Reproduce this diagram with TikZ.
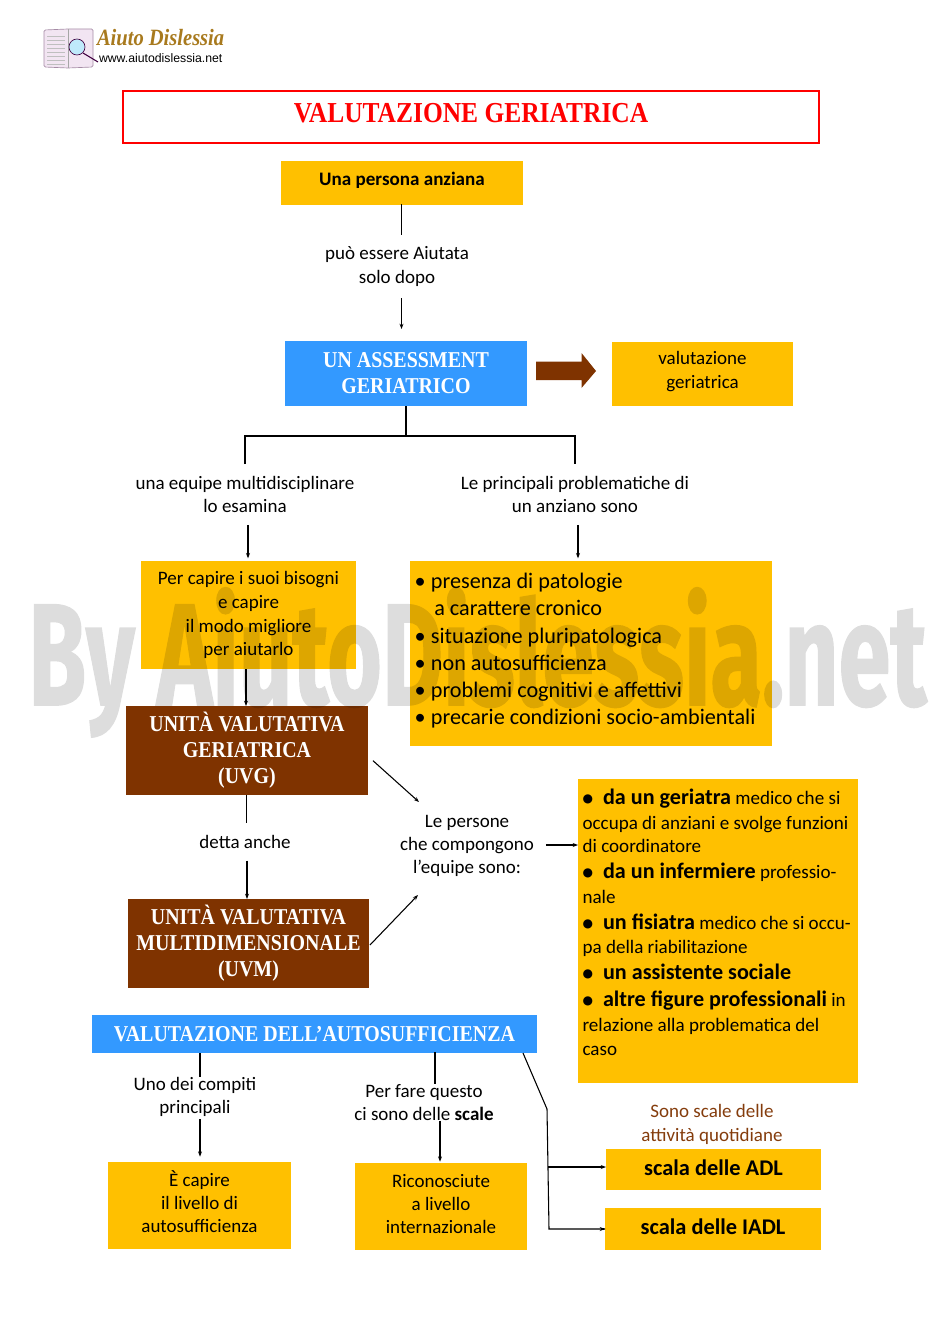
\documentclass[tikz,border=0pt]{standalone}
\usepackage{fontspec}
\usepackage{graphicx}
\setmainfont{Carlito}
\newfontfamily\heading[FakeStretch=0.88]{Liberation Serif}
\newfontfamily\wmfont[FakeBold=1.2]{Fira Sans}
\newfontfamily\logofont{Liberation Sans}
\newfontfamily\bulletfont{DejaVu Sans}
\usetikzlibrary{arrows.meta,calc}
\definecolor{amber}{HTML}{FFC000}
\definecolor{skyb}{HTML}{3399FF}
\definecolor{rust}{HTML}{7F3300}
\definecolor{rusttext}{HTML}{843C0C}
\definecolor{gold}{HTML}{A87A1E}
\tikzset{
 base/.style={inner sep=0pt,outer sep=0pt,font=\fontsize{14.25pt}{17.5pt}\selectfont},
 amberbox/.style={base,fill=amber},
 bluebox/.style={base,fill=skyb,text=white,font=\heading\bfseries\fontsize{17pt}{19.5pt}\selectfont},
 rustbox/.style={base,fill=rust,text=white,font=\heading\bfseries\fontsize{17pt}{19.5pt}\selectfont},
 titlebox/.style={base,draw=red,line width=1.7pt,text=red,font=\heading\bfseries\fontsize{21.7pt}{25pt}\selectfont},
 txt/.style={base,align=center,inner ysep=9pt},
 conn/.style={draw=black,line width=0.8pt},
 arr/.style={conn,-{Stealth[length=4pt,width=3pt]}},
 bigbold/.style={font=\bfseries\fontsize{14.3pt}{17.5pt}\selectfont},
}
\newcommand\ctr[1]{\begin{tabular}{@{}c@{}}#1\end{tabular}}
\newcommand\lft[1]{\begin{tabular}{@{}l@{}}#1\end{tabular}}
\newcommand\bx[8]{%
 \pgfmathsetmacro\bxw{(#5-#3)*0.75}\pgfmathsetmacro\bxh{(#6-#4)*0.75}%
 \node[#1,minimum width=\bxw pt,minimum height=\bxh pt] (#2) at ({(#3+#5)/2},{(#4+#6)/2}) {\raisebox{\dimexpr #7pt-.25em-1.5pt\relax}[0pt][0pt]{#8}};}
\newcommand\blt{\raisebox{1.2pt}{\bulletfont\fontsize{9pt}{9pt}\selectfont ●}\hspace{7.5pt}}
\newcommand\bb[1]{{\fontsize{16.6pt}{18pt}\selectfont\bfseries #1}}
\newcommand\thinblt{\textbullet\hspace{4pt}}
\begin{document}
\begin{tikzpicture}[x=0.75pt,y=-0.75pt]
\useasboundingbox (0,0) rectangle (950,1344);
% logo
\fill[rounded corners=1pt,fill=violet!10,draw=violet!45!black!45,line width=0.5pt] (44,30) -- (68,29) -- (93,29) -- (93,67) -- (68,68) -- (44,67) -- cycle;
\draw[black!35,line width=0.4pt] (68,29) -- (68,68);
\foreach \yy in {36,40,44,48,52,56,60,64}{\draw[black!25,line width=0.4pt] (47,\yy) -- (65,\yy);}
\draw[violet!50!black,line width=0.8pt] (83,53) -- (98,62);
\filldraw[fill=cyan!25,draw=violet!50!black,line width=0.5pt] (77,47) circle (8);
\node[base,anchor=base west,text=gold,font=\heading\bfseries\itshape\fontsize{17.5pt}{18pt}\selectfont] (logoname) at (97,46) {Aiuto Dislessia};
\node[base,anchor=base west,font=\logofont\fontsize{9.2pt}{10pt}\selectfont] (logourl) at (99,63) {www.aiutodislessia.net};
% boxes
\bx{titlebox}{title}{123}{91}{819}{143}{2.5}{\ctr{VALUTAZIONE GERIATRICA}}
\bx{amberbox,bigbold}{persona}{281}{161}{523}{205}{3}{\ctr{Una persona anziana}}
\bx{bluebox}{assess}{285}{341}{527}{406}{0}{\ctr{UN ASSESSMENT\\GERIATRICO}}
\bx{amberbox}{valger}{612}{342}{793}{406}{3}{\ctr{valutazione\\geriatrica}}
\bx{amberbox,font=\fontsize{14.25pt}{17.7pt}\selectfont}{bisogni}{141}{561}{356}{669}{1}{\ctr{Per capire i suoi bisogni\\e capire\\il modo migliore\\per aiutarlo}}
\bx{amberbox,font=\fontsize{16.65pt}{20.4pt}\selectfont}{probl}{410}{561}{772}{746}{3}{\hspace*{-9pt}\lft{\thinblt presenza di patologie\\\phantom{\thinblt}\hspace*{2.5pt}a carattere cronico\\\thinblt situazione pluripatologica\\\thinblt non autosufficienza\\\thinblt problemi cognitivi e affettivi\\\thinblt precarie condizioni socio-ambientali}}
\bx{rustbox}{uvg}{126}{706}{368}{795}{0.2}{\ctr{UNITÀ VALUTATIVA\\GERIATRICA\\(UVG)}}
\bx{rustbox}{uvm}{128}{899}{369}{988}{0.2}{\ctr{UNITÀ VALUTATIVA\\MULTIDIMENSIONALE\\(UVM)}}
\bx{amberbox,font=\fontsize{14.3pt}{18pt}\selectfont}{figure}{578}{779}{858}{1083}{6}{\hspace*{-2pt}\lft{\blt\bb{da un geriatra} medico che si\\[0.75pt]occupa di anziani e svolge funzioni\\[-0.75pt]di coordinatore\\[1.5pt]\blt\bb{da un infermiere} professio-\\[0.75pt]nale\\[1.5pt]\blt\bb{un fisiatra} medico che si occu-\\pa della riabilitazione\\[1.5pt]\blt\bb{un assistente sociale}\\[2.25pt]\blt\bb{altre figure professionali} in\\[0.75pt]relazione alla problematica del\\caso}}
\bx{bluebox}{autosuf}{92}{1015}{537}{1053}{-0.5}{\ctr{VALUTAZIONE DELL’AUTOSUFFICIENZA}}
\bx{amberbox}{ecapire}{108}{1162}{291}{1249}{2}{\ctr{È capire\\il livello di\\autosufficienza}}
\bx{amberbox}{ricon}{355}{1163}{527}{1250}{2}{\ctr{Riconosciute\\a livello\\internazionale}}
\bx{amberbox,font=\bfseries\fontsize{16.8pt}{18pt}\selectfont}{adl}{606}{1149}{821}{1190}{0.5}{\ctr{scala delle ADL}}
\bx{amberbox,font=\bfseries\fontsize{16.8pt}{18pt}\selectfont}{iadl}{605}{1208}{821}{1250}{0.5}{\ctr{scala delle IADL}}
% free labels
\node[txt] (puo) at (397,266.5) {può essere Aiutata\\solo dopo};
\node[txt] (equipe) at (245,494.5) {una equipe multidisciplinare\\lo esamina};
\node[txt] (princ) at (575,494.5) {Le principali problematiche di\\un anziano sono};
\node[txt] (detta) at (245,842) {detta anche};
\node[txt] (lepers) at (467,846) {Le persone\\che compongono\\l’equipe sono:};
\node[txt,inner ysep=0pt] (compiti) at (195,1097) {Uno dei compiti\\principali};
\node[txt,inner ysep=0pt] (perfare) at (424,1102.5) {Per fare questo\\ci sono delle \textbf{scale}};
\node[txt,text=rusttext] (sono) at (712,1124.5) {Sono scale delle\\attività quotidiane};
% connectors
\coordinate (jshoulder) at (406,436);
\coordinate (jbend) at (547,1109);
\coordinate (jadl) at (548,1167);
\coordinate (jiadl) at (549,1229);
\draw[conn] (401.5,204) coordinate (pa) -- (puo.north -| pa);
\draw[arr,shorten >=9pt] (puo.south -| pa) -- (assess.north -| pa);
\draw[conn] (assess.south) -- (jshoulder);
\draw[conn] (equipe.north) |- (jshoulder) -| (princ.north);
\draw[arr,shorten >=2pt] ($(equipe.south)+(3,0)$) -- ($(bisogni.north)+(-0.5,0)$);
\draw[arr,shorten >=2pt] ($(princ.south)+(3,0)$) -- (probl.north -| 578,0);
\draw[arr] (246,669) -- (uvg.north -| 246,0);
\draw[arr,shorten <=3pt] (uvg.east |- 0,758) ++(2,0) -- (419,802);
\draw[arr,shorten <=1pt] (uvm.east |- 0,946) -- (418,895);
\draw[conn] (uvg.south) ++(-0.5,0) -- ($(detta.north)+(1.5,0)$);
\draw[arr] ($(detta.south)+(2,0)$) -- (uvm.north -| 247,0);
\draw[arr,shorten <=9pt] (lepers.east |- 0,845) -- (figure.west |- 0,845);
\draw[conn] (200,1053) -- (compiti.north -| 200,0);
\draw[arr,shorten >=4pt,shorten <=2pt] (compiti.south -| 200,0) -- (ecapire.north -| 200,0);
\draw[conn] (435,1052) -- (perfare.north -| 435,0);
\draw[arr,shorten >=1pt] (perfare.south -| 440,0) -- (ricon.north -| 440,0);
\draw[conn] (523,1053) -- (jbend) -- (jiadl) -- (iadl.west |- jiadl);
\draw[arr] (iadl.west |- jiadl) ++(-1,0) -- (iadl.west |- jiadl);
\draw[arr] (jadl) -- (adl.west |- jadl);
% block arrow
\fill[rust] (536,361.5) -- (581.5,361.5) -- (581.5,353) -- (596,371) -- (581.5,388) -- (581.5,380) -- (536,380) -- cycle;
% watermark
\begin{scope}[transparency group,opacity=0.135]
\node[anchor=base west,inner sep=0pt,text=black] (wm) at (28,705) {\resizebox{673.5pt}{88pt}{\wmfont\bfseries By AiutoDislessia.net}};
\end{scope}
\end{tikzpicture}
\end{document}
